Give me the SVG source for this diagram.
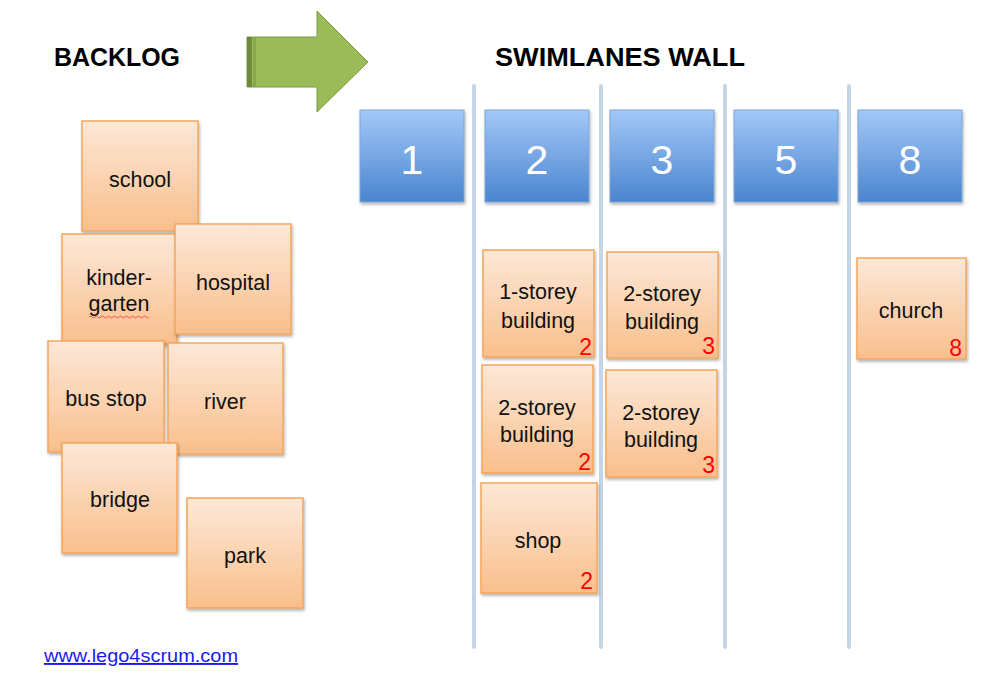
<svg xmlns="http://www.w3.org/2000/svg" width="1003" height="685" viewBox="0 0 1003 685">
<defs>
<linearGradient id="og" x1="0" y1="0" x2="0" y2="1">
<stop offset="0" stop-color="#fde8d8"/>
<stop offset="1" stop-color="#f9bf8c"/>
</linearGradient>
<linearGradient id="bg" x1="0" y1="0" x2="0" y2="1">
<stop offset="0" stop-color="#a3c8f8"/>
<stop offset="1" stop-color="#4a85cf"/>
</linearGradient>
<filter id="sh" x="-10%" y="-10%" width="130%" height="130%">
<feDropShadow dx="1" dy="2" stdDeviation="1.5" flood-color="#000" flood-opacity="0.3"/>
</filter>
</defs>
<style>
.card{fill:url(#og);stroke:#f5a65b;stroke-width:1.5;filter:url(#sh)}
.blue{fill:url(#bg);stroke:#7ea5d8;stroke-width:1;filter:url(#sh)}
.t{font-family:"Liberation Sans",Arial,sans-serif;font-size:21.5px;fill:#111;text-anchor:middle}
.n{font-family:"Liberation Sans",Arial,sans-serif;font-size:23px;fill:#f00;text-anchor:end}
.big{font-family:"Liberation Sans",Arial,sans-serif;font-size:41px;fill:#fff;text-anchor:middle}
.h{font-family:"Liberation Sans",Arial,sans-serif;font-size:26px;font-weight:bold;fill:#000}
.lane{stroke:#c5d4e6;stroke-width:4;stroke-linecap:round}
</style>
<rect width="1003" height="685" fill="#fff"/>
<text class="h" x="54" y="66" textLength="126" lengthAdjust="spacingAndGlyphs">BACKLOG</text>
<text class="h" x="495" y="66" textLength="250" lengthAdjust="spacingAndGlyphs">SWIMLANES WALL</text>
<g id="arrow">
<path d="M247,37 L317,37 L317,11 L368,62 L317,112 L317,87 L247,87 Z" fill="#9bbb59" stroke="#7d9a45" stroke-width="1"/>
<rect x="247" y="37" width="5" height="50" fill="#6f8a3c"/>
<rect x="253" y="37" width="3" height="50" fill="#89a84e"/>
</g>
<g id="lanes">
<line class="lane" x1="474" y1="86" x2="474" y2="647"/>
<line class="lane" x1="601" y1="86" x2="601" y2="647"/>
<line class="lane" x1="725" y1="86" x2="725" y2="647"/>
<line class="lane" x1="849" y1="86" x2="849" y2="647"/>
</g>
<g id="col1"><rect class="blue" x="360" y="110" width="104" height="92"/><text class="big" x="412" y="174">1</text></g>
<g id="col2"><rect class="blue" x="485" y="110" width="104" height="92"/><text class="big" x="537" y="174">2</text></g>
<g id="col3"><rect class="blue" x="610" y="110" width="104" height="92"/><text class="big" x="662" y="174">3</text></g>
<g id="col5"><rect class="blue" x="734" y="110" width="104" height="92"/><text class="big" x="786" y="174">5</text></g>
<g id="col8"><rect class="blue" x="858" y="110" width="104" height="92"/><text class="big" x="910" y="174">8</text></g>
<g id="school"><rect class="card" x="82" y="121" width="116" height="110"/><text class="t" x="140" y="187">school</text></g>
<g id="kindergarten"><rect class="card" x="62" y="234" width="115" height="110"/><text class="t" x="119" y="285">kinder-</text><text class="t" x="119" y="311">garten</text>
<path d="M89,317 q1.5,-2 3,0 t3,0 t3,0 t3,0 t3,0 t3,0 t3,0 t3,0 t3,0 t3,0 t3,0 t3,0 t3,0 t3,0 t3,0 t3,0 t3,0 t3,0 t3,0 t3,0" fill="none" stroke="#e33" stroke-width="0.8"/></g>
<g id="hospital"><rect class="card" x="175" y="224" width="116" height="110"/><text class="t" x="233" y="290">hospital</text></g>
<g id="busstop"><rect class="card" x="48" y="341" width="116" height="111"/><text class="t" x="106" y="406">bus stop</text></g>
<g id="river"><rect class="card" x="168" y="343" width="115" height="111"/><text class="t" x="225" y="409">river</text></g>
<g id="bridge"><rect class="card" x="62" y="443" width="115" height="110"/><text class="t" x="120" y="507">bridge</text></g>
<g id="park"><rect class="card" x="187" y="498" width="116" height="110"/><text class="t" x="245" y="563">park</text></g>
<g id="c2a"><rect class="card" x="483" y="250" width="111" height="107"/><text class="t" x="538" y="299">1-storey</text><text class="t" x="538" y="328">building</text><text class="n" x="592" y="355">2</text></g>
<g id="c2b"><rect class="card" x="482" y="365" width="111" height="108"/><text class="t" x="537" y="415">2-storey</text><text class="t" x="537" y="442">building</text><text class="n" x="591" y="470">2</text></g>
<g id="c2c"><rect class="card" x="481" y="483" width="116" height="110"/><text class="t" x="538" y="548">shop</text><text class="n" x="593" y="589">2</text></g>
<g id="c3a"><rect class="card" x="607" y="252" width="111" height="106"/><text class="t" x="662" y="301">2-storey</text><text class="t" x="662" y="329">building</text><text class="n" x="715" y="354">3</text></g>
<g id="c3b"><rect class="card" x="606" y="370" width="111" height="107"/><text class="t" x="661" y="420">2-storey</text><text class="t" x="661" y="447">building</text><text class="n" x="715" y="473">3</text></g>
<g id="church"><rect class="card" x="857" y="258" width="109" height="101"/><text class="t" x="911" y="318">church</text><text class="n" x="962" y="356">8</text></g>
<text x="44" y="662" font-family="Liberation Sans, Arial, sans-serif" font-size="19" fill="#1a1aee" text-decoration="underline" textLength="194" lengthAdjust="spacingAndGlyphs">www.lego4scrum.com</text>
</svg>
